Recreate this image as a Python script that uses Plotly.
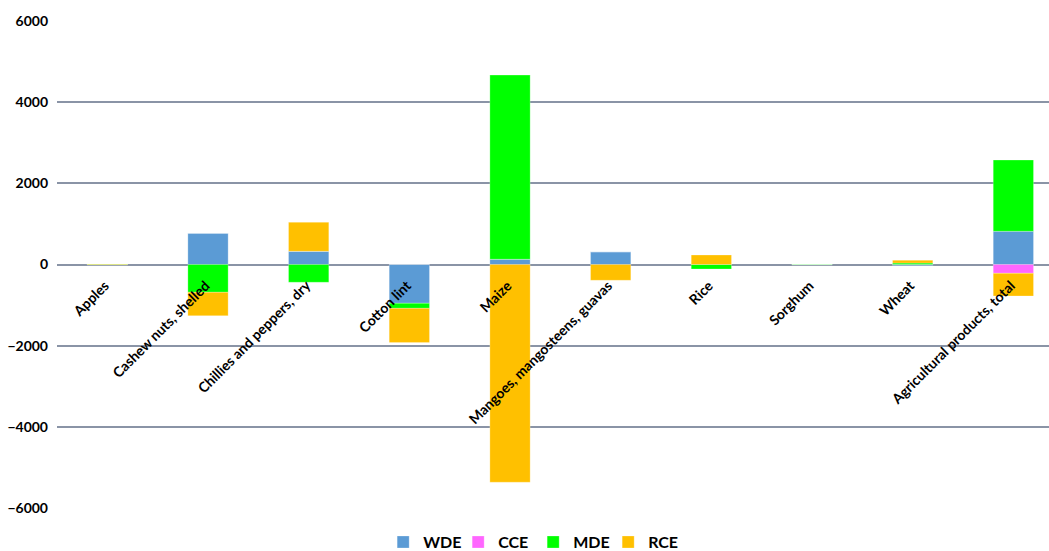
import plotly.graph_objects as go

categories = ["Apples", "Cashew nuts, shelled", "Chillies and peppers, dry", "Cotton lint",
              "Maize", "Mangoes, mangosteens, guavas", "Rice", "Sorghum", "Wheat",
              "Agricultural products, total"]
wde = [0, 768, 325, -955, 130, 315, 0, 0, -25, 818]
cce = [0, 0, 0, 0, 0, 0, 0, 0, 0, -217]
mde = [12, -685, -438, -125, 4537, 0, -111, -12, 35, 1756]
rce = [-15, -576, 715, -845, -5365, -389, 234, 0, 70, -559]
y_ticks = [-6000, -4000, -2000, 0, 2000, 4000, 6000]

series = [("WDE", wde, "#5B9BD5"), ("CCE", cce, "#FF66FF"),
          ("MDE", mde, "#00FF00"), ("RCE", rce, "#FFC000")]

fig = go.Figure()
for name, vals, col in series:
    fig.add_trace(go.Bar(x=categories, y=vals, name=name, width=0.4,
                         marker=dict(color=col, line=dict(color="rgba(255,255,255,0.5)", width=0.5))))

grid_col = "#8A94A6"
fig.update_layout(
    width=1049, height=551,
    barmode="relative",
    plot_bgcolor="white", paper_bgcolor="white",
    margin=dict(l=57, r=0, t=21, b=43, autoexpand=False),
    font=dict(family="Lato", color="black"),
    xaxis=dict(range=[-0.5, 9.354], anchor="free", position=0.5, tickangle=-45,
               showgrid=False, showline=False, ticks="", automargin=False,
               ticklabelstandoff=7,
               tickmode="array", tickvals=categories,
               ticktext=[c + "\u00a0" for c in categories],
               tickfont=dict(size=14, family="Lato", weight="bold")),
    yaxis=dict(range=[-6000, 6000], tickvals=y_ticks, showgrid=True, gridcolor=grid_col,
               gridwidth=1.5, zeroline=True, zerolinecolor=grid_col, zerolinewidth=1.5,
               showline=False, ticks="", automargin=False, ticklabelstandoff=8,
               tickfont=dict(size=14, family="Lato", weight="bold")),
    legend=dict(orientation="h", x=0.48, xanchor="center", y=-0.07, yanchor="middle",
                entrywidth=30, entrywidthmode="pixels",
                font=dict(size=16, family="Lato", weight="bold"), traceorder="normal"),
    bargap=0.6,
)
fig.write_html("out.html")
